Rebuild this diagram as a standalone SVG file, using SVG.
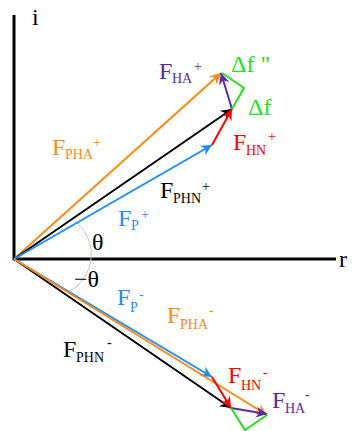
<svg xmlns="http://www.w3.org/2000/svg" width="352" height="431" viewBox="0 0 352 431">
<style>
text{font-family:"Liberation Serif","Times New Roman",serif;font-size:24px}
.s{font-size:14px}
.v{fill:none;stroke-width:2}
.or{stroke:#ff8a12}
.bk{stroke:#000}
.bl{stroke:#1e8cff}
.rd{stroke:#ff0000}
.pu{stroke:#5a2aa0}
.gr{stroke:#22e022}
.tor{fill:#ff8a12}
.tbk{fill:#000}
.tbl{fill:#1e8cff}
.trd{fill:#ff0000}
.tpu{fill:#5a2aa0}
.tgr{fill:#22e022}
</style>
<defs>
<marker id="aor" markerUnits="userSpaceOnUse" markerWidth="14" markerHeight="14" viewBox="-12 -7 14 14" refX="0" refY="0" orient="auto"><path d="M0,0 L-11,-5.5 L-7.5,0 L-11,5.5 Z" fill="#ff8a12"/></marker>
<marker id="abk" markerUnits="userSpaceOnUse" markerWidth="14" markerHeight="14" viewBox="-12 -7 14 14" refX="0" refY="0" orient="auto"><path d="M0,0 L-11,-5.5 L-7.5,0 L-11,5.5 Z" fill="#000"/></marker>
<marker id="abl" markerUnits="userSpaceOnUse" markerWidth="14" markerHeight="14" viewBox="-12 -7 14 14" refX="0" refY="0" orient="auto"><path d="M0,0 L-11,-5.5 L-7.5,0 L-11,5.5 Z" fill="#1e8cff"/></marker>
<marker id="ard" markerUnits="userSpaceOnUse" markerWidth="14" markerHeight="14" viewBox="-12 -7 14 14" refX="0" refY="0" orient="auto"><path d="M0,0 L-11,-5.5 L-7.5,0 L-11,5.5 Z" fill="#ff0000"/></marker>
<marker id="apu" markerUnits="userSpaceOnUse" markerWidth="14" markerHeight="14" viewBox="-12 -7 14 14" refX="0" refY="0" orient="auto"><path d="M0,0 L-11,-5.5 L-7.5,0 L-11,5.5 Z" fill="#5a2aa0"/></marker>
</defs>
<g id="axes">
<line x1="14" y1="15" x2="14" y2="260" stroke="#000" stroke-width="3"/>
<line x1="13" y1="259" x2="336" y2="259" stroke="#000" stroke-width="3"/>
<text x="32" y="25">i</text>
<text x="339" y="267">r</text>
</g>
<g id="angle">
<path d="M77,223 A42,42 0 0 1 70,291" fill="none" stroke="#c8c8c8" stroke-width="1"/>
<text x="92" y="250">θ</text>
<text x="74" y="287">−θ</text>
</g>
<g id="connectors">
<line class="v or" x1="14" y1="259" x2="221" y2="73" marker-end="url(#aor)"/>
<line class="v bk" x1="14" y1="259" x2="232" y2="109" marker-end="url(#abk)"/>
<line class="v bl" x1="14" y1="259" x2="212" y2="145" marker-end="url(#abl)"/>
<line class="v rd" x1="212" y1="145" x2="232" y2="109" marker-end="url(#ard)"/>
<line class="v pu" x1="232" y1="109" x2="221" y2="73" marker-end="url(#apu)"/>
<polyline class="v gr" points="232,109 244,88 222,73"/>
<line class="v bl" x1="14" y1="259" x2="212" y2="377" marker-end="url(#abl)"/>
<line class="v bk" x1="14" y1="259" x2="231" y2="408" marker-end="url(#abk)"/>
<line class="v or" x1="14" y1="259" x2="267" y2="415" marker-end="url(#aor)"/>
<line class="v rd" x1="212" y1="377" x2="231" y2="408" marker-end="url(#ard)"/>
<line class="v pu" x1="231" y1="408" x2="267" y2="414" marker-end="url(#apu)"/>
<polyline class="v gr" points="231,408 245,430 267,415"/>
</g>
<g id="labels-upper">
<text class="tpu" x="159" y="79">F<tspan class="s" x="172" y="83">HA</tspan><tspan class="s" x="194" y="71">+</tspan></text>
<text class="tgr" x="231" y="72">Δf "</text>
<text class="tgr" x="248" y="115">Δf</text>
<text class="trd" x="233" y="150">F<tspan class="s" x="246" y="155">HN</tspan><tspan class="s" x="268" y="141">+</tspan></text>
<text class="tor" x="52" y="155">F<tspan class="s" x="65" y="159">PHA</tspan><tspan class="s" x="93" y="147">+</tspan></text>
<text class="tbk" x="160" y="198">F<tspan class="s" x="173" y="203">PHN</tspan><tspan class="s" x="202" y="191">+</tspan></text>
<text class="tbl" x="118" y="226">F<tspan class="s" x="131" y="230">P</tspan><tspan class="s" x="141" y="219">+</tspan></text>
</g>
<g id="labels-lower">
<text class="tbl" x="117" y="305">F<tspan class="s" x="130" y="312">P</tspan><tspan class="s" x="139" y="299">-</tspan></text>
<text class="tor" x="167" y="323">F<tspan class="s" x="180" y="329">PHA</tspan><tspan class="s" x="209" y="315">-</tspan></text>
<text class="tbk" x="63" y="357">F<tspan class="s" x="76" y="362">PHN</tspan><tspan class="s" x="107" y="347">-</tspan></text>
<text class="trd" x="228" y="383">F<tspan class="s" x="241" y="390">HN</tspan><tspan class="s" x="263" y="377">-</tspan></text>
<text class="tpu" x="272" y="408">F<tspan class="s" x="285" y="413">HA</tspan><tspan class="s" x="305" y="399">-</tspan></text>
</g>
</svg>
